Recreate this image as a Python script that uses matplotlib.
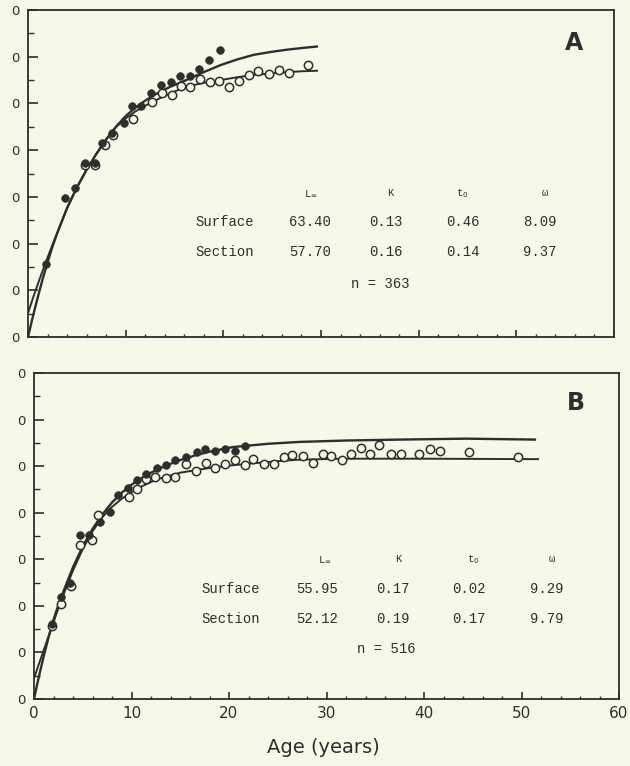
import matplotlib
matplotlib.use("Agg")
import matplotlib.pyplot as plt
from matplotlib.ticker import MultipleLocator, FixedLocator, FixedFormatter

# ---------------- data ----------------
# Panel A: filled = surface readings, open = section readings
a_surf_age = [1.8, 3.8, 4.8, 5.8, 6.9, 7.6, 8.6, 9.8, 10.6, 11.6, 12.6, 13.6, 14.6, 15.6, 16.6, 17.5, 18.5, 19.7]
a_surf_len = [15.6, 29.8, 32.0, 37.2, 37.2, 41.5, 43.6, 45.9, 49.5, 49.5, 52.3, 54.0, 54.5, 55.8, 55.9, 57.3, 59.3, 61.4]
a_sect_age = [5.8, 6.9, 7.9, 8.7, 10.7, 12.7, 13.7, 14.7, 15.7, 16.6, 17.6, 18.6, 19.6, 20.6, 21.6, 22.6, 23.6, 24.7, 25.7, 26.7, 28.7]
a_sect_len = [36.8, 36.8, 41.1, 43.3, 46.6, 50.4, 52.2, 51.8, 53.7, 53.6, 55.2, 54.5, 54.7, 53.5, 54.7, 56.1, 57.0, 56.3, 57.2, 56.5, 58.2]

# Panel A fitted curves
a_surf_curve_t = [0, 0.5, 1, 1.5, 2, 2.5, 3, 4, 5, 6, 7, 8, 9, 10, 11, 12, 13, 14.5, 16.2, 18.0, 19.7, 21.4, 23.1, 24.8, 26.5, 28.2, 29.7]
a_surf_curve_y = [0, 4.4, 8.5, 12.4, 16.0, 19.3, 22.3, 27.6, 32.0, 35.8, 39.2, 42.3, 45.0, 47.3, 49.1, 50.6, 51.9, 53.5, 55.0, 56.7, 58.2, 59.4, 60.4, 61.0, 61.5, 61.9, 62.2]
a_sect_curve_t = [0, 0.5, 1, 1.5, 2, 2.5, 3, 4, 5, 6, 7, 8, 9, 10, 11, 12, 13, 14.5, 16.2, 18.0, 19.7, 21.4, 23.1, 24.8, 26.5, 28.2, 29.7]
a_sect_curve_y = [5.1, 8.3, 11.3, 14.2, 17.0, 19.7, 22.3, 27.6, 32.0, 35.8, 39.2, 42.3, 44.9, 46.8, 48.3, 49.5, 50.6, 52.1, 53.6, 54.4, 55.0, 55.6, 56.1, 56.4, 56.7, 56.9, 57.0]

# Panel B
b_surf_age = [1.8, 2.8, 3.7, 4.7, 5.6, 6.8, 7.8, 8.6, 9.6, 10.6, 11.5, 12.6, 13.5, 14.5, 15.6, 16.7, 17.5, 18.6, 19.6, 20.6, 21.6]
b_surf_len = [16.1, 22.0, 25.0, 35.2, 35.2, 38.0, 40.2, 43.8, 45.2, 47.0, 48.4, 49.5, 50.2, 51.3, 51.9, 53.1, 53.6, 53.3, 53.6, 53.3, 54.4]
b_sect_age = [1.8, 2.8, 3.8, 4.7, 5.9, 6.6, 9.7, 10.6, 11.5, 12.4, 13.5, 14.5, 15.6, 16.6, 17.6, 18.6, 19.6, 20.6, 21.6, 22.5,
              23.6, 24.6, 25.6, 26.5, 27.6, 28.6, 29.6, 30.5, 31.6, 32.5, 33.5, 34.5, 35.4, 36.6, 37.6, 39.5, 40.6, 41.6, 44.6, 49.6]
b_sect_len = [15.7, 20.4, 24.2, 33.0, 34.1, 39.5, 43.3, 45.1, 47.2, 47.6, 47.4, 47.7, 50.4, 49.0, 50.6, 49.6, 50.4, 51.3, 50.2, 51.5,
              50.4, 50.4, 52.0, 52.4, 52.1, 50.7, 52.6, 52.1, 51.4, 52.6, 53.8, 52.6, 54.5, 52.6, 52.6, 52.7, 53.6, 53.3, 53.1, 51.9]

b_surf_curve_t = [0, 0.5, 1, 1.5, 2, 2.5, 3, 4, 5, 6, 7, 8, 9, 10, 11, 12, 13, 14, 15, 16.5, 18.0, 20.4, 24.0, 27.2, 32.0, 37.5, 44.3, 51.5]
b_surf_curve_y = [0, 4.8, 9.2, 13.3, 17.0, 20.2, 23.0, 28.3, 32.8, 36.5, 39.6, 42.2, 44.3, 46.0, 47.4, 48.6, 49.6, 50.5, 51.3, 52.3, 53.1, 54.1, 54.8, 55.2, 55.5, 55.7, 55.9, 55.7]
b_sect_curve_t = [0, 0.5, 1, 1.5, 2, 2.5, 3, 4, 5, 6, 7, 7.8, 9, 10, 11, 12, 13, 15, 18.0, 20.4, 24.0, 27.2, 32.0, 40.0, 51.8]
b_sect_curve_y = [4.4, 7.5, 10.5, 13.5, 16.5, 19.5, 22.3, 27.6, 32.2, 36.0, 39.0, 40.9, 43.0, 44.4, 45.6, 46.6, 47.4, 48.6, 49.6, 50.2, 50.9, 51.4, 51.6, 51.6, 51.5]

# Parameter tables
row_names = ["Surface", "Section"]
param_headers = [r"L$_{\infty}$", "K", r"t$_0$", "ω"]
a_params = [["63.40", "0.13", "0.46", "8.09"], ["57.70", "0.16", "0.14", "9.37"]]
b_params = [["55.95", "0.17", "0.02", "9.29"], ["52.12", "0.19", "0.17", "9.79"]]
a_n = "n = 363"
b_n = "n = 516"

y_ticks = [0, 10, 20, 30, 40, 50, 60, 70]
y_tick_labels = ["0"] * len(y_ticks)
x_ticks = [0, 10, 20, 30, 40, 50, 60]
x_tick_labels = ["0", "10", "20", "30", "40", "50", "60"]

# ---------------- drawing ----------------
BG = "#f7f8e7"
INK = "#2e2e2e"

fig = plt.figure(figsize=(6.3, 7.66), dpi=100, facecolor=BG)
axA = fig.add_axes([28/630, (766-337)/766, 586/630, 327/766])
axB = fig.add_axes([34/630, (766-699)/766, 585/630, 326/766])

mono = "Liberation Mono"

def style(ax, show_x):
    ax.set_facecolor(BG)
    ax.set_xlim(0, 60)
    ax.set_ylim(0, 70)
    for s in ax.spines.values():
        s.set_color(INK)
        s.set_linewidth(1.3)
    ax.yaxis.set_major_locator(FixedLocator(y_ticks))
    ax.yaxis.set_major_formatter(FixedFormatter(y_tick_labels))
    ax.yaxis.set_minor_locator(MultipleLocator(5))
    ax.xaxis.set_major_locator(FixedLocator(x_ticks))
    ax.xaxis.set_minor_locator(MultipleLocator(2))
    ax.tick_params(axis="y", which="major", direction="in", length=7, width=1.2,
                   color=INK, labelsize=9.5, labelcolor=INK, pad=6)
    ax.tick_params(axis="y", which="minor", direction="in", length=4, width=1.0, color=INK)
    ax.tick_params(axis="x", which="major", direction="in", length=5, width=1.2,
                   color=INK, labelsize=11, labelcolor=INK, pad=5)
    ax.tick_params(axis="x", which="minor", direction="in", length=2.5, width=1.0, color=INK)
    ax.tick_params(top=False, right=False)
    if show_x:
        ax.xaxis.set_major_formatter(FixedFormatter(x_tick_labels))
    else:
        ax.tick_params(axis="x", labelbottom=False)

def draw_panel(ax, st, sy, ot, oy, sct, scy, sect_t, sect_y):
    ax.plot(sct, scy, color=INK, lw=1.7, solid_capstyle="butt", solid_joinstyle="round", zorder=2)
    ax.plot(sect_t, sect_y, color=INK, lw=1.4, solid_capstyle="butt", solid_joinstyle="round", zorder=2)
    ax.plot(ot, oy, linestyle="none", marker="o", ms=6, mfc=BG, mec=INK, mew=1.1, zorder=3)
    ax.plot(st, sy, linestyle="none", marker="o", ms=5.5, mfc=INK, mec=INK, mew=0.5, zorder=4)

def draw_table(ax, hx, hy, row_x, row_y, val_x, params, n_txt, n_xy, letter, letter_xy):
    for h, x in zip(param_headers, hx):
        ax.text(x, hy, h, transform=ax.transAxes, ha="center", va="center",
                fontsize=7.5, family=mono, color=INK)
    for name, vals, ry in zip(row_names, params, row_y):
        ax.text(row_x, ry, name, transform=ax.transAxes, ha="left", va="center",
                fontsize=10, family=mono, color=INK)
        for v, x in zip(vals, val_x):
            ax.text(x, ry, v, transform=ax.transAxes, ha="center", va="center",
                    fontsize=10, family=mono, color=INK)
    ax.text(n_xy[0], n_xy[1], n_txt, transform=ax.transAxes, ha="center", va="center",
            fontsize=10, family=mono, color=INK)
    ax.text(letter_xy[0], letter_xy[1], letter, transform=ax.transAxes, ha="center", va="center",
            fontsize=17, fontweight="bold", family="DejaVu Sans", color=INK)

style(axA, False)
style(axB, True)

draw_panel(axA, a_surf_age, a_surf_len, a_sect_age, a_sect_len,
           a_surf_curve_t, a_surf_curve_y, a_sect_curve_t, a_sect_curve_y)
draw_panel(axB, b_surf_age, b_surf_len, b_sect_age, b_sect_len,
           b_surf_curve_t, b_surf_curve_y, b_sect_curve_t, b_sect_curve_y)

draw_table(axA, [0.483, 0.619, 0.741, 0.882], 0.440, 0.285, [0.352, 0.260],
           [0.481, 0.611, 0.742, 0.874], a_params, a_n, (0.601, 0.162), "A", (0.932, 0.899))
draw_table(axB, [0.497, 0.622, 0.750, 0.885], 0.429, 0.287, [0.337, 0.245],
           [0.484, 0.614, 0.744, 0.877], b_params, b_n, (0.603, 0.153), "B", (0.926, 0.908))

fig.text(0.514, 0.0235, "Age (years)", ha="center", va="center", fontsize=14, color=INK)

fig.savefig("out.png", dpi=100, facecolor=BG)
